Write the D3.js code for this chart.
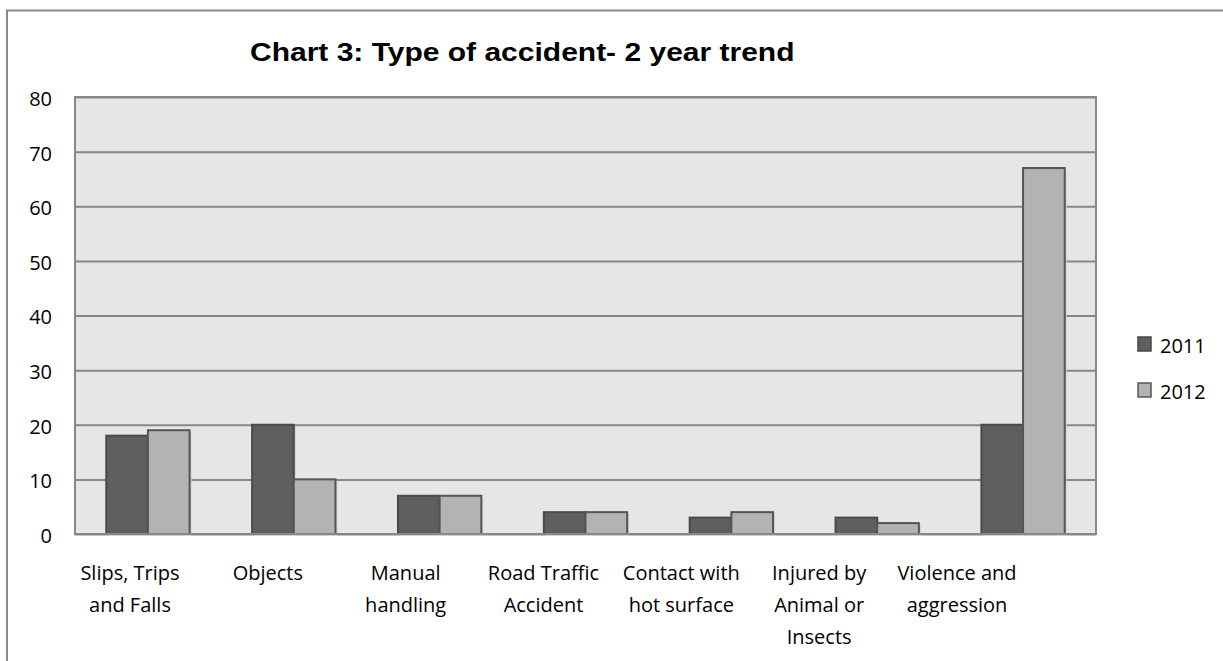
<!DOCTYPE html>
<html>
<head>
<meta charset="utf-8">
<script src="https://cdn.jsdelivr.net/npm/d3@7"></script>
<style>
  body { margin: 0; background: #fff; }
  svg { display: block; }
  .lbl { font-family: "Open Sans", sans-serif; font-size: 20px; fill: #000; }
</style>
</head>
<body>
<svg width="1223" height="661"></svg>
<script>
const categories = [
  ['Slips, Trips', 'and Falls'],
  ['Objects'],
  ['Manual', 'handling'],
  ['Road Traffic', 'Accident'],
  ['Contact with', 'hot surface'],
  ['Injured by', 'Animal or', 'Insects'],
  ['Violence and', 'aggression']
];
const seriesNames = ['2011', '2012'];
const values2011 = [18, 20, 7, 4, 3, 3, 20];
const values2012 = [19, 10, 7, 4, 4, 2, 67];
const yTicks = [0, 10, 20, 30, 40, 50, 60, 70, 80];
const titleText = 'Chart 3: Type of accident- 2 year trend';

const svg = d3.select('svg');
const plotL = 75, plotR = 1096, plotT = 97, plotB = 534;
const fills = { '2011': '#5f5f5f', '2012': '#b3b3b3' };
const strokes = { '2011': '#4a4a4a', '2012': '#555555' };

// outer chart border (runs off the right and bottom edges)
svg.append('rect')
    .attr('x', 7).attr('y', 10.5)
    .attr('width', 1260).attr('height', 700)
    .attr('fill', 'none')
    .attr('stroke', '#8a8a8a')
    .attr('stroke-width', 2);

// title, stretched a bit wider like the picture
svg.append('text')
    .attr('transform', 'translate(250,61) scale(1.2,1)')
    .attr('font-family', '"Liberation Sans", Arial, sans-serif')
    .attr('font-weight', 'bold')
    .attr('font-size', 25)
    .text(titleText);

const keys = categories.map(function(d) { return d.join(' '); });

const x = d3.scaleBand()
    .domain(keys)
    .range([plotL, plotR])
    .paddingInner(0.4286)
    .paddingOuter(0.2143);

const xs = d3.scaleBand()
    .domain(seriesNames)
    .range([0, x.bandwidth()]);

const y = d3.scaleLinear()
    .domain([0, 80])
    .range([plotB, plotT]);

// plot background
svg.append('rect')
    .attr('x', plotL).attr('y', plotT)
    .attr('width', plotR - plotL).attr('height', plotB - plotT)
    .attr('fill', '#e6e6e6');

// gridlines + y labels
const yAxis = svg.append('g')
    .attr('transform', 'translate(' + plotL + ',0)')
    .call(d3.axisLeft(y)
      .tickValues(yTicks)
      .tickSize(-(plotR - plotL))
      .tickPadding(23));
yAxis.select('.domain').remove();
yAxis.selectAll('.tick line')
    .attr('stroke', '#878787')
    .attr('stroke-width', 2);
yAxis.selectAll('.tick text')
    .attr('class', 'lbl')
    .attr('dy', '0.42em');

// plot border
svg.append('rect')
    .attr('x', plotL).attr('y', plotT)
    .attr('width', plotR - plotL).attr('height', plotB - plotT)
    .attr('fill', 'none')
    .attr('stroke', '#878787')
    .attr('stroke-width', 2);

const rows = [];
keys.forEach(function(k, i) {
  rows.push({ key: k, series: '2011', value: values2011[i] });
  rows.push({ key: k, series: '2012', value: values2012[i] });
});

// faint shadows
svg.append('g').selectAll('rect')
  .data(rows)
  .enter().append('rect')
    .attr('x', function(d) { return x(d.key) + xs(d.series) + 2; })
    .attr('y', function(d) { return y(d.value) + 2; })
    .attr('width', xs.bandwidth())
    .attr('height', function(d) { return plotB - y(d.value); })
    .attr('fill', '#d2d2d2');

svg.append('g').selectAll('rect')
  .data(rows)
  .enter().append('rect')
    .attr('x', function(d) { return x(d.key) + xs(d.series); })
    .attr('y', function(d) { return y(d.value); })
    .attr('width', xs.bandwidth())
    .attr('height', function(d) { return plotB - y(d.value); })
    .attr('fill', function(d) { return fills[d.series]; })
    .attr('stroke', function(d) { return strokes[d.series]; })
    .attr('stroke-width', 2);

// redraw the base line over the bar shadows
svg.append('line')
    .attr('x1', plotL).attr('x2', plotR)
    .attr('y1', plotB).attr('y2', plotB)
    .attr('stroke', '#878787')
    .attr('stroke-width', 2);

// category labels (Excel drew them a bit left of the bars)
const xl = d3.scalePoint()
    .domain(keys)
    .range([plotL + 55, plotR - 139]);

const lab = svg.append('g').selectAll('text')
  .data(categories)
  .enter().append('text')
    .attr('class', 'lbl')
    .attr('text-anchor', 'middle')
    .attr('y', 580);
lab.selectAll('tspan')
  .data(function(d, i) { return d.map(function(t) { return { t: t, k: keys[i] }; }); })
  .enter().append('tspan')
    .attr('x', function(d) { return xl(d.k); })
    .attr('dy', function(d, j) { return j ? 32 : 0; })
    .text(function(d) { return d.t; });

// legend
const leg = svg.append('g')
  .selectAll('g')
  .data(seriesNames)
  .enter().append('g')
    .attr('transform', function(d, i) { return 'translate(1138,' + (337 + i * 46) + ')'; });
leg.append('rect')
    .attr('width', 13).attr('height', 14)
    .attr('fill', function(d) { return fills[d]; })
    .attr('stroke', function(d) { return strokes[d]; })
    .attr('stroke-width', 1.5);
leg.append('text')
    .attr('class', 'lbl')
    .attr('x', 22)
    .attr('y', 16)
    .text(function(d) { return d; });
</script>
</body>
</html>
